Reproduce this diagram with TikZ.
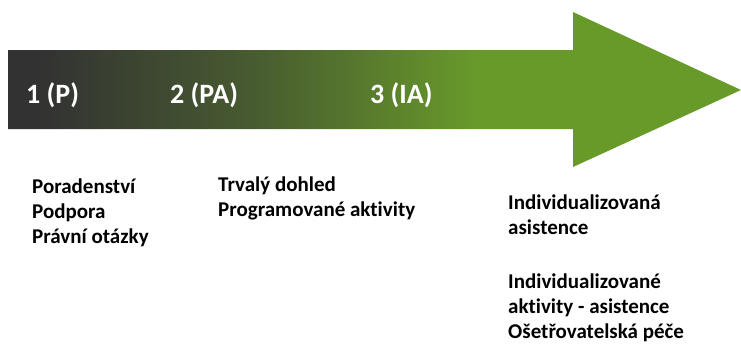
\documentclass[tikz,border=0pt]{standalone}
\usepackage{fontspec}
\setmainfont[RawFeature=-liga]{Carlito}
\definecolor{tmava}{RGB}{50,50,50}
\definecolor{stredni}{RGB}{72,92,48}
\definecolor{zelena}{RGB}{104,154,42}
\pgfdeclarehorizontalshading{sipka}{100bp}{color(0bp)=(tmava); color(27bp)=(tmava); color(42bp)=(stredni); color(57bp)=(zelena); color(100bp)=(zelena)}
\begin{document}
\begin{tikzpicture}[x=1pt, y=-1pt,
		stupen/.style = {text = white, font = \bfseries\fontsize{28}{32}\selectfont, anchor = west, inner sep = 0pt},
		popis/.style = {font = \bfseries\fontsize{21}{25}\selectfont, anchor = north west, align = left, inner sep = 0pt}]
	\useasboundingbox (0,0) rectangle (741,343);
	\shade[shading = sipka] (8,50) -- (573,50) -- (573,12) -- (741,90) -- (573,167) -- (573,129) -- (8,129) -- cycle;
	\node[stupen] (s1) at (26,95) {1 (P)};
	\node[stupen] (s2) at (170,95) {2 (PA)};
	\node[stupen] (s3) at (370,95) {3 (IA)};
	\node[popis] (p1) at (32,179) {Poradenství\\Podpora\\Právní otázky};
	\node[popis] (p2) at (218,177) {Trvalý dohled\\Programované aktivity};
	\node[popis] (p3) at (508,195) {Individualizovaná\\asistence\\[29pt]Individualizované\\aktivity - asistence\\Ošetřovatelská péče};
\end{tikzpicture}
\end{document}
